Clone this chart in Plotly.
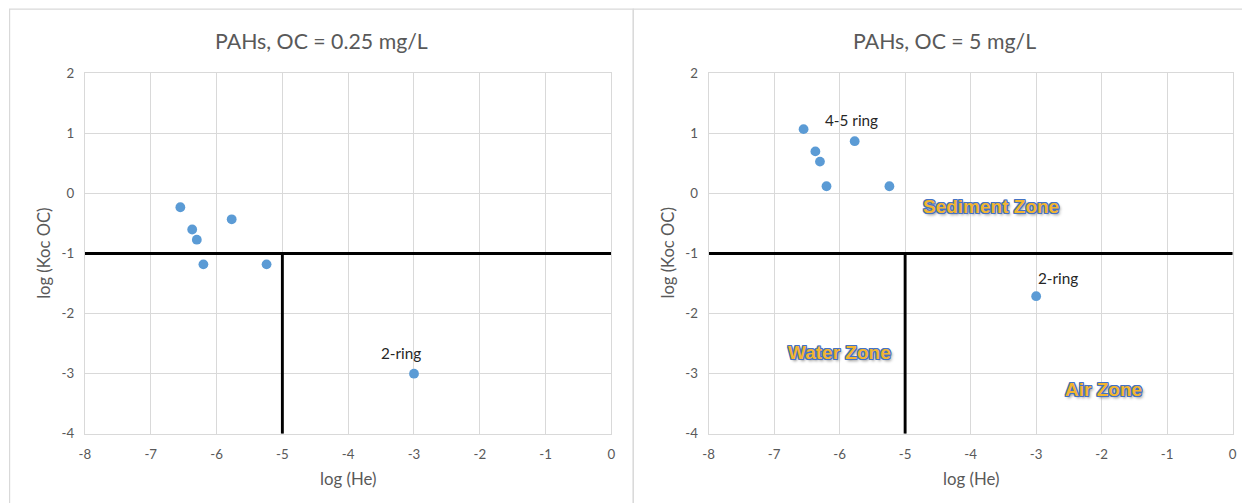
import plotly.graph_objects as go

# ---- data ----
log_he = [-6.55, -6.37, -6.30, -5.77, -6.20, -5.24, -3.00]
log_koc_oc_025 = [-0.23, -0.60, -0.77, -0.43, -1.18, -1.18, -3.00]
log_koc_oc_5 = [1.07, 0.70, 0.53, 0.87, 0.12, 0.12, -1.71]

koc_boundary = -1
he_boundary = -5
x_range = [-8, 0]
y_range = [-4, 2]
x_ticks = [-8, -7, -6, -5, -4, -3, -2, -1, 0]
x_tick_labels = ["-8", "-7", "-6", "-5", "-4", "-3", "-2", "-1", "0"]
y_ticks = [-4, -3, -2, -1, 0, 1, 2]
y_tick_labels = ["-4", "-3", "-2", "-1", "0", "1", "2"]

titles = ["PAHs, OC = 0.25 mg/L", "PAHs, OC = 5 mg/L"]

W, H = 1242, 503
# layout positions are given in screen pixels of the target picture
SX, OX = 0.9917, 6.4
SY, OY = 0.9667, 8.14
def px(x):
    return ((x - OX) / SX) / W
def py(y):
    return (H - (y - OY) / SY) / H

GRID = "#D9D9D9"
TXT = "#595959"
PT = "#5B9BD5"
FONT = "Lato, Carlito, sans-serif"

fig = go.Figure()

for i, yv in enumerate([log_koc_oc_025, log_koc_oc_5]):
    xa = "x" if i == 0 else "x2"
    ya = "y" if i == 0 else "y2"
    fig.add_trace(go.Scatter(x=[x_range[0], x_range[1]], y=[koc_boundary, koc_boundary],
                             mode="lines", line=dict(color="black", width=2.9),
                             xaxis=xa, yaxis=ya, showlegend=False, hoverinfo="skip"))
    fig.add_trace(go.Scatter(x=[he_boundary, he_boundary], y=[koc_boundary, y_range[0]],
                             mode="lines", line=dict(color="black", width=2.9),
                             xaxis=xa, yaxis=ya, showlegend=False, hoverinfo="skip"))
    fig.add_trace(go.Scatter(x=log_he, y=yv, mode="markers",
                             marker=dict(color=PT, size=9.8, line=dict(width=0)),
                             xaxis=xa, yaxis=ya, showlegend=False))

axis_common = dict(range=x_range, tickvals=x_ticks, ticktext=x_tick_labels,
                   showgrid=True, gridcolor=GRID, gridwidth=1, showline=True,
                   linecolor=GRID, linewidth=1, mirror=True, zeroline=False,
                   ticks="", tickfont=dict(family=FONT, size=13.3, color=TXT),
                   ticklabelstandoff=8, fixedrange=True)
yaxis_common = dict(range=y_range, tickvals=y_ticks, ticktext=y_tick_labels,
                    showgrid=True, gridcolor=GRID, gridwidth=1, showline=True,
                    linecolor=GRID, linewidth=1, mirror=True, zeroline=False,
                    ticks="", tickfont=dict(family=FONT, size=13.3, color=TXT),
                    ticklabelstandoff=7, fixedrange=True,
                    domain=[py(433.3), py(73.3)])

fig.update_layout(
    width=W, height=H, margin=dict(l=0, r=0, t=0, b=0),
    paper_bgcolor="white", plot_bgcolor="white",
    xaxis=dict(domain=[px(85.3), px(611.7)], anchor="y", **axis_common),
    xaxis2=dict(domain=[px(708.8), px(1232.8)], anchor="y2", **axis_common),
    yaxis=dict(anchor="x", **yaxis_common),
    yaxis2=dict(anchor="x2", **yaxis_common),
)

fig.add_shape(type="rect", xref="paper", yref="paper", x0=px(10), x1=px(633.5),
              y0=-0.2, y1=py(9.3), line=dict(color=GRID, width=1.2), layer="below")
fig.add_shape(type="rect", xref="paper", yref="paper", x0=px(633.5), x1=1.2,
              y0=-0.2, y1=py(9.3), line=dict(color=GRID, width=1.2), layer="below")

ann = []
for cx, t in zip([322, 945], titles):
    ann.append(dict(text=t, x=px(cx), y=py(41.5), xref="paper", yref="paper",
                    showarrow=False, xanchor="center", yanchor="middle",
                    font=dict(family=FONT, size=21.3, color=TXT)))
for cx in [348.5, 970.8]:
    ann.append(dict(text="log (He)", x=px(cx), y=py(478), xref="paper", yref="paper",
                    showarrow=False, xanchor="center", yanchor="middle",
                    font=dict(family=FONT, size=16.8, color=TXT)))
for cx in [45, 668.5]:
    ann.append(dict(text="log (Koc OC)", x=px(cx), y=py(253), xref="paper", yref="paper",
                    showarrow=False, textangle=-90, xanchor="center", yanchor="middle",
                    font=dict(family=FONT, size=16.6, color=TXT)))
LBL = dict(family=FONT, size=15.3, color="#262626")
ann.append(dict(text="2-ring", x=log_he[6], y=log_koc_oc_025[6], xref="x", yref="y",
                showarrow=False, xshift=-13, yshift=20.5, font=LBL))
ann.append(dict(text="2-ring", x=log_he[6], y=log_koc_oc_5[6], xref="x2", yref="y2",
                showarrow=False, xshift=22, yshift=18.5, font=LBL))
ann.append(dict(text="4-5 ring", x=log_he[3], y=log_koc_oc_5[3], xref="x2", yref="y2",
                showarrow=False, xshift=-3.5, yshift=21, font=LBL))

B = "#4472C4"
shadow = (f"-1px -1px 0 {B}, 1px -1px 0 {B}, -1px 1px 0 {B}, 1px 1px 0 {B}, "
          f"0 1px 0 {B}, 0 -1px 0 {B}, 1px 0 0 {B}, -1px 0 0 {B}, 2px 2px 3px #8c8c8c")
ZF = dict(family="Liberation Sans, Arial, sans-serif", size=19, color="#F2B530",
          weight="bold", shadow=shadow)
for text, cx, cy in [("Sediment Zone", 991, 206), ("Water Zone", 840, 352), ("Air Zone", 1104, 389.5)]:
    ann.append(dict(text=text, x=px(cx), y=py(cy), xref="paper", yref="paper",
                    showarrow=False, xanchor="center", yanchor="middle", font=ZF))

fig.update_layout(annotations=ann)
fig.write_html("out.html", config={"displayModeBar": False},
               post_script="document.body.style.margin='0';document.body.style.overflow='hidden';")
